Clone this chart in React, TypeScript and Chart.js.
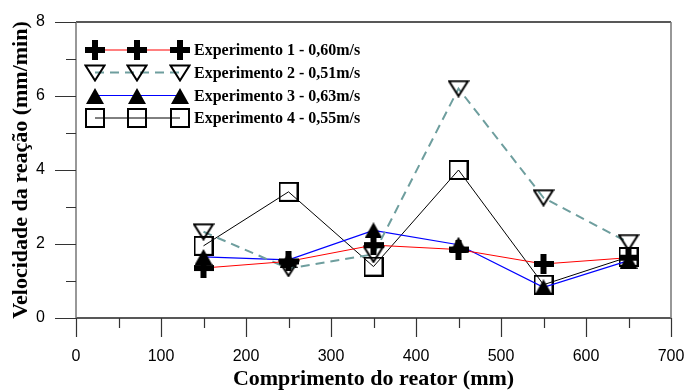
import React, { useEffect, useRef } from 'react';
import { Chart, registerables } from 'chart.js';

Chart.register(...registerables);

// ---- data ----
const positions = [150, 250, 350, 450, 550, 650];
const exp1 = [1.35, 1.53, 1.97, 1.85, 1.46, 1.63];
const exp2 = [2.33, 1.34, 1.72, 6.2, 3.25, 2.04];
const exp3 = [1.65, 1.57, 2.37, 1.98, 0.83, 1.55];
const exp4 = [1.95, 3.41, 1.39, 4.0, 0.9, 1.65];
const seriesLabels = [
  'Experimento 1 - 0,60m/s',
  'Experimento 2 - 0,51m/s',
  'Experimento 3 - 0,63m/s',
  'Experimento 4 - 0,55m/s',
];
const xTitle = 'Comprimento do reator (mm)';
const yTitle = 'Velocidade da reação (mm/min)';

function makeCanvas(w: number, h: number, draw: (ctx: CanvasRenderingContext2D) => void) {
  const c = document.createElement('canvas');
  c.width = w;
  c.height = h;
  const ctx = c.getContext('2d')!;
  draw(ctx);
  return c;
}

function makeMarkers() {
  const plus = makeCanvas(20, 20, (ctx) => {
    ctx.fillStyle = '#000';
    ctx.fillRect(0, 7, 20, 6);
    ctx.fillRect(7, 0, 6, 20);
  });
  const triDown = makeCanvas(22, 18, (ctx) => {
    ctx.strokeStyle = '#000';
    ctx.lineWidth = 2;
    ctx.beginPath();
    ctx.moveTo(1.5, 1.5);
    ctx.lineTo(20.5, 1.5);
    ctx.lineTo(11, 16.5);
    ctx.closePath();
    ctx.stroke();
  });
  const triUp = makeCanvas(18, 16, (ctx) => {
    ctx.fillStyle = '#000';
    ctx.beginPath();
    ctx.moveTo(9, 0);
    ctx.lineTo(18, 16);
    ctx.lineTo(0, 16);
    ctx.closePath();
    ctx.fill();
  });
  const square = makeCanvas(20, 20, (ctx) => {
    ctx.strokeStyle = '#000';
    ctx.lineWidth = 2;
    ctx.strokeRect(1, 1, 18, 18);
  });
  return [plus, triDown, triUp, square];
}

const lineColors = ['#ff0000', '#6e9e9e', '#0000ff', '#000000'];
const lineWidths = [1, 2, 1.2, 1];
const lineDashes: number[][] = [[], [9, 6], [], []];

const framePlugin = {
  id: 'frameTicksLegend',
  afterDraw(chart: any) {
    const ctx = chart.ctx as CanvasRenderingContext2D;
    const { left, right, top, bottom } = chart.chartArea;
    const xs = chart.scales.x;
    const ys = chart.scales.y;
    ctx.save();
    // frame
    ctx.lineWidth = 1.5;
    ctx.strokeStyle = '#222';
    ctx.beginPath();
    ctx.moveTo(left, bottom);
    ctx.lineTo(right, bottom);
    ctx.moveTo(left, top);
    ctx.lineTo(right, top);
    ctx.stroke();
    ctx.strokeStyle = '#777';
    ctx.beginPath();
    ctx.moveTo(left, top);
    ctx.lineTo(left, bottom);
    ctx.moveTo(right, top);
    ctx.lineTo(right, bottom);
    ctx.stroke();
    // ticks
    ctx.lineWidth = 1.2;
    ctx.strokeStyle = '#333';
    ctx.beginPath();
    for (let v = 0; v <= 700; v += 50) {
      const px = Math.round(xs.getPixelForValue(v)) + 0.5;
      const len = v % 100 === 0 ? 19 : 10;
      ctx.moveTo(px, bottom);
      ctx.lineTo(px, bottom + len);
    }
    for (let v = 0; v <= 8; v += 1) {
      const py = Math.round(ys.getPixelForValue(v)) + 0.5;
      const len = v % 2 === 0 ? 21 : 10;
      ctx.moveTo(left, py);
      ctx.lineTo(left - len, py);
    }
    ctx.stroke();

    // legend
    const markers = chart.$markers as HTMLCanvasElement[];
    const rowsY = [50, 72.5, 95.5, 118];
    const mx = [95, 137, 180];
    for (let i = 0; i < 4; i++) {
      const y = rowsY[i];
      ctx.save();
      ctx.strokeStyle = lineColors[i];
      ctx.lineWidth = lineWidths[i];
      ctx.setLineDash(lineDashes[i]);
      ctx.beginPath();
      ctx.moveTo(mx[0], y);
      ctx.lineTo(mx[2], y);
      ctx.stroke();
      ctx.restore();
      const m = markers[i];
      for (const x of mx) {
        ctx.drawImage(m, Math.round(x - m.width / 2), Math.round(y - m.height / 2));
      }
      ctx.fillStyle = '#000';
      ctx.font = 'bold 16px "Liberation Serif", "Times New Roman", serif';
      ctx.textAlign = 'left';
      ctx.textBaseline = 'middle';
      ctx.fillText(seriesLabels[i], 194, y + 1);
    }
    ctx.restore();
  },
};

export default function App() {
  const ref = useRef<HTMLCanvasElement | null>(null);
  useEffect(() => {
    const canvas = ref.current!;
    const markers = makeMarkers();
    const series = [exp1, exp2, exp3, exp4];
    const datasets = series.map((s, i) => ({
      label: seriesLabels[i],
      data: positions.map((x, j) => ({ x, y: s[j] })),
      borderColor: lineColors[i],
      borderWidth: lineWidths[i],
      borderDash: lineDashes[i],
      backgroundColor: 'transparent',
      pointStyle: markers[i],
      pointRadius: 10,
      pointHoverRadius: 10,
      fill: false,
      tension: 0,
    }));
    const hiddenGrid = (len: number) => ({
      display: true,
      drawOnChartArea: false,
      drawTicks: true,
      tickLength: len,
      color: 'rgba(0,0,0,0)',
      tickColor: 'rgba(0,0,0,0)',
    });
    const chart: any = new Chart(canvas, {
      type: 'line',
      data: { datasets },
      options: {
        animation: false,
        responsive: false,
        maintainAspectRatio: false,
        events: [],
        layout: { padding: { top: 22, right: 16, left: 0, bottom: 0 } },
        plugins: { legend: { display: false }, tooltip: { enabled: false } },
        scales: {
          x: {
            type: 'linear',
            min: 0,
            max: 700,
            grid: hiddenGrid(28),
            border: { display: false },
            ticks: {
              stepSize: 100,
              padding: 1,
              color: '#000',
              maxRotation: 0,
              font: { family: '"Liberation Sans", Arial, sans-serif', size: 16 },
            },
            title: {
              display: true,
              text: xTitle,
              color: '#000',
              padding: { top: 0, bottom: 0 },
              font: { family: '"Liberation Serif", "Times New Roman", serif', size: 22, weight: 'bold', lineHeight: 1 },
            },
            afterFit: (scale: any) => {
              scale.height = 72;
            },
          },
          y: {
            type: 'linear',
            min: 0,
            max: 8,
            grid: hiddenGrid(30),
            border: { display: false },
            ticks: {
              stepSize: 2,
              padding: 1,
              color: '#000',
              font: { family: '"Liberation Sans", Arial, sans-serif', size: 16 },
            },
            title: {
              display: true,
              text: yTitle,
              color: '#000',
              padding: { top: 10, bottom: 0 },
              font: { family: '"Liberation Serif", "Times New Roman", serif', size: 22, weight: 'bold', lineHeight: 1 },
            },
            afterFit: (scale: any) => {
              scale.width = 76;
            },
          },
        },
      },
      plugins: [
        {
          id: 'markersHolder',
          beforeInit(c: any) {
            c.$markers = markers;
          },
        },
        framePlugin,
      ],
    } as any);
    return () => chart.destroy();
  }, []);
  return (
    <div style={{ position: 'fixed', left: 0, top: 0, width: 687, height: 390, background: '#fff' }}>
      <canvas ref={ref} width={687} height={390} style={{ width: 687, height: 390 }} />
    </div>
  );
}
